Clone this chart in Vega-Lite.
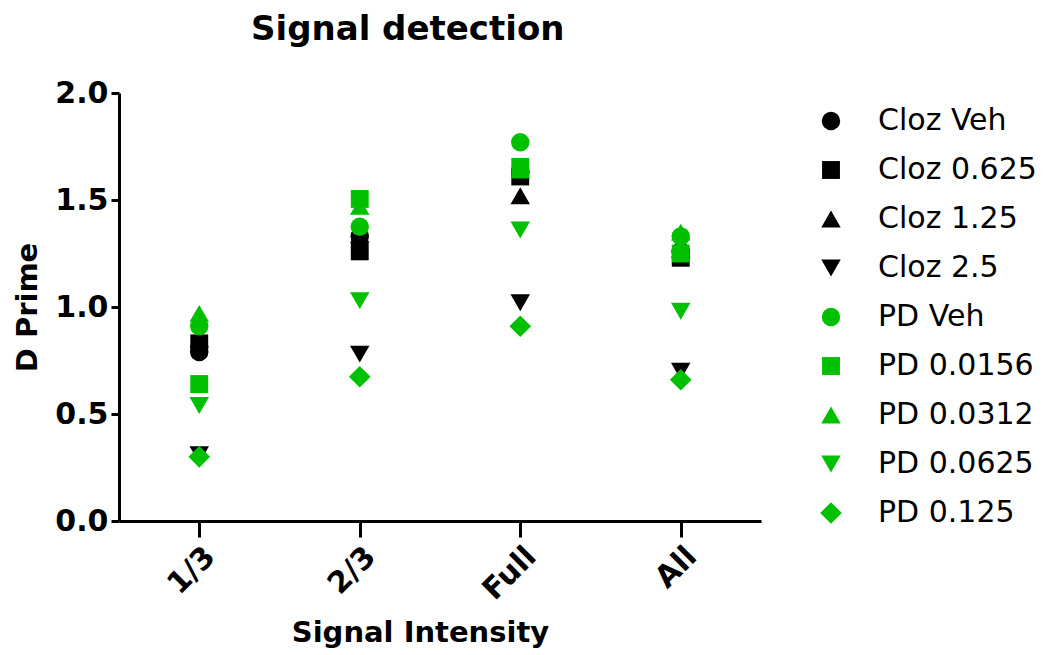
{
  "$schema": "https://vega.github.io/schema/vega-lite/v6.json",
  "width": 642,
  "height": 428,
  "autosize": "none",
  "padding": {"left": 119, "top": 93, "right": 293, "bottom": 134},
  "background": "white",
  "title": {
    "text": "Signal detection",
    "anchor": "start",
    "frame": "group",
    "dx": 132,
    "font": "DejaVu Sans",
    "fontSize": 34,
    "fontWeight": "bold",
    "color": "black",
    "baseline": "alphabetic",
    "offset": 4
  },
  "config": {
    "view": {"stroke": null},
    "axis": {"grid": false, "domainColor": "black", "tickColor": "black", "labelColor": "black", "titleColor": "black", "domainWidth": 3, "tickWidth": 3, "labelFont": "DejaVu Sans", "labelFontWeight": "bold", "titleFont": "DejaVu Sans", "titleFontWeight": "bold"}
  },
  "data": {
    "values": [
      {"intensity": "1/3", "series": "Cloz Veh", "dprime": 0.79},
      {"intensity": "2/3", "series": "Cloz Veh", "dprime": 1.33},
      {"intensity": "Full", "series": "Cloz Veh", "dprime": 1.63},
      {"intensity": "All", "series": "Cloz Veh", "dprime": 1.26},
      {"intensity": "1/3", "series": "Cloz 0.625", "dprime": 0.83},
      {"intensity": "2/3", "series": "Cloz 0.625", "dprime": 1.26},
      {"intensity": "Full", "series": "Cloz 0.625", "dprime": 1.61},
      {"intensity": "All", "series": "Cloz 0.625", "dprime": 1.23},
      {"intensity": "1/3", "series": "Cloz 1.25", "dprime": 0.85},
      {"intensity": "2/3", "series": "Cloz 1.25", "dprime": 1.34},
      {"intensity": "Full", "series": "Cloz 1.25", "dprime": 1.52},
      {"intensity": "All", "series": "Cloz 1.25", "dprime": 1.27},
      {"intensity": "1/3", "series": "Cloz 2.5", "dprime": 0.31},
      {"intensity": "2/3", "series": "Cloz 2.5", "dprime": 0.78},
      {"intensity": "Full", "series": "Cloz 2.5", "dprime": 1.02},
      {"intensity": "All", "series": "Cloz 2.5", "dprime": 0.70},
      {"intensity": "1/3", "series": "PD Veh", "dprime": 0.91},
      {"intensity": "2/3", "series": "PD Veh", "dprime": 1.375},
      {"intensity": "Full", "series": "PD Veh", "dprime": 1.77},
      {"intensity": "All", "series": "PD Veh", "dprime": 1.33},
      {"intensity": "1/3", "series": "PD 0.0156", "dprime": 0.64},
      {"intensity": "2/3", "series": "PD 0.0156", "dprime": 1.505},
      {"intensity": "Full", "series": "PD 0.0156", "dprime": 1.655},
      {"intensity": "All", "series": "PD 0.0156", "dprime": 1.25},
      {"intensity": "1/3", "series": "PD 0.0312", "dprime": 0.97},
      {"intensity": "2/3", "series": "PD 0.0312", "dprime": 1.47},
      {"intensity": "Full", "series": "PD 0.0312", "dprime": 1.64},
      {"intensity": "All", "series": "PD 0.0312", "dprime": 1.35},
      {"intensity": "1/3", "series": "PD 0.0625", "dprime": 0.54},
      {"intensity": "2/3", "series": "PD 0.0625", "dprime": 1.03},
      {"intensity": "Full", "series": "PD 0.0625", "dprime": 1.36},
      {"intensity": "All", "series": "PD 0.0625", "dprime": 0.98},
      {"intensity": "1/3", "series": "PD 0.125", "dprime": 0.30},
      {"intensity": "2/3", "series": "PD 0.125", "dprime": 0.674},
      {"intensity": "Full", "series": "PD 0.125", "dprime": 0.91},
      {"intensity": "All", "series": "PD 0.125", "dprime": 0.66}
    ]
  },
  "mark": {"type": "point", "filled": true, "opacity": 1, "strokeWidth": 0},
  "encoding": {
    "x": {
      "field": "intensity",
      "type": "nominal",
      "sort": ["1/3", "2/3", "Full", "All"],
      "scale": {"type": "point", "padding": 0.5},
      "axis": {"title": "Signal Intensity", "titleFontSize": 29, "labelFontSize": 30, "labelAngle": -45, "tickSize": 16, "labelPadding": 4, "titleX": 301, "titleY": 120, "titleBaseline": "alphabetic"}
    },
    "y": {
      "field": "dprime",
      "type": "quantitative",
      "scale": {"domain": [0, 2], "nice": false, "zero": true},
      "axis": {"title": "D Prime", "titleFontSize": 29, "labelFontSize": 30, "values": [0, 0.5, 1, 1.5, 2], "format": ".1f", "tickSize": 8, "labelPadding": 3, "titlePadding": 12}
    },
    "color": {
      "field": "series",
      "type": "nominal",
      "scale": {
        "domain": ["Cloz Veh", "Cloz 0.625", "Cloz 1.25", "Cloz 2.5", "PD Veh", "PD 0.0156", "PD 0.0312", "PD 0.0625", "PD 0.125"],
        "range": ["#000000", "#000000", "#000000", "#000000", "#00C000", "#00C000", "#00C000", "#00C000", "#00C000"]
      },
      "legend": {"title": null, "orient": "none", "legendX": 697, "legendY": 13, "padding": 0, "labelFont": "DejaVu Sans", "labelFontSize": 30, "labelColor": "black", "labelOffset": 32, "rowPadding": 19}
    },
    "shape": {
      "field": "series",
      "type": "nominal",
      "scale": {
        "domain": ["Cloz Veh", "Cloz 0.625", "Cloz 1.25", "Cloz 2.5", "PD Veh", "PD 0.0156", "PD 0.0312", "PD 0.0625", "PD 0.125"],
        "range": ["circle", "square", "triangle-up", "triangle-down", "circle", "square", "triangle-up", "triangle-down", "diamond"]
      },
      "legend": {"title": null, "orient": "none", "legendX": 697, "legendY": 13, "padding": 0, "labelFont": "DejaVu Sans", "labelFontSize": 30, "labelColor": "black", "labelOffset": 32, "rowPadding": 19}
    },
    "size": {
      "field": "series",
      "type": "nominal",
      "scale": {
        "type": "ordinal",
        "domain": ["Cloz Veh", "Cloz 0.625", "Cloz 1.25", "Cloz 2.5", "PD Veh", "PD 0.0156", "PD 0.0312", "PD 0.0625", "PD 0.125"],
        "range": [340, 320, 380, 380, 340, 320, 380, 380, 470]
      },
      "legend": {"title": null, "orient": "none", "legendX": 697, "legendY": 13, "padding": 0, "labelFont": "DejaVu Sans", "labelFontSize": 30, "labelColor": "black", "labelOffset": 32, "rowPadding": 19}
    }
  }
}
